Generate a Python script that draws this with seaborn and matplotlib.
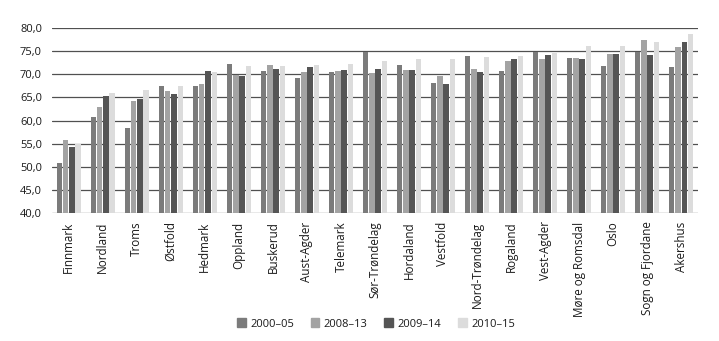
import matplotlib
matplotlib.use("Agg")
import matplotlib.pyplot as plt
import matplotlib.ticker as mticker
import seaborn as sns
import pandas as pd

counties = ["Finnmark", "Nordland", "Troms", "Østfold", "Hedmark", "Oppland",
            "Buskerud", "Aust-Agder", "Telemark", "Sør-Trøndelag", "Hordaland",
            "Vestfold", "Nord-Trøndelag", "Rogaland", "Vest-Agder",
            "Møre og Romsdal", "Oslo", "Sogn og Fjordane", "Akershus"]
periods = ["2000–05", "2008–13", "2009–14", "2010–15"]

v2000_05 = [50.9, 60.8, 58.3, 67.4, 67.4, 72.3, 70.6, 69.2, 70.5, 74.9,
            71.9, 68.1, 73.9, 70.6, 74.9, 73.5, 71.7, 74.7, 71.5]
v2008_13 = [55.7, 63.0, 64.2, 66.3, 67.8, 69.9, 71.9, 70.5, 70.6, 70.2,
            71.0, 69.7, 71.1, 72.9, 73.4, 73.5, 74.4, 77.3, 75.9]
v2009_14 = [54.3, 65.2, 64.6, 65.7, 70.8, 69.6, 71.1, 71.5, 70.9, 71.2,
            70.9, 67.8, 70.4, 73.3, 74.1, 73.3, 74.3, 74.1, 77.0]
v2010_15 = [54.9, 65.9, 66.5, 67.4, 70.5, 71.8, 71.8, 72.0, 72.2, 72.9,
            73.2, 73.4, 73.7, 74.0, 74.5, 76.1, 76.2, 76.9, 78.7]

series = [v2000_05, v2008_13, v2009_14, v2010_15]
rows = []
for p, vals in zip(periods, series):
    for c, v in zip(counties, vals):
        rows.append({"Fylke": c, "Periode": p, "Verdi": v})
df = pd.DataFrame(rows)

colors = ["#7b7b7b", "#a3a3a3", "#555555", "#dcdcdc"]

sns.set_theme(style="white")
plt.rcParams["font.family"] = ["Open Sans", "DejaVu Sans"]

fig = plt.figure(figsize=(7.19, 3.41), dpi=100)
ax = fig.add_axes([0.072, 0.375, 0.899, 0.543])

sns.barplot(data=df, x="Fylke", y="Verdi", hue="Periode", order=counties,
            hue_order=periods, palette=colors, width=0.74, gap=0.12,
            saturation=1, errorbar=None, linewidth=0, ax=ax, zorder=3)

ax.set_ylim(40, 80)
ax.set_yticks([40, 45, 50, 55, 60, 65, 70, 75, 80])
ax.yaxis.set_major_formatter(mticker.FuncFormatter(lambda v, _: f"{v:.1f}".replace(".", ",")))
ax.set_xlim(-0.5, len(counties) - 0.5)
ax.grid(axis="y", color="#505050", linewidth=0.9, zorder=0)
ax.set_axisbelow(True)
for s in ax.spines.values():
    s.set_visible(False)
ax.set_xlabel("")
ax.set_ylabel("")
ax.tick_params(axis="y", length=0, labelsize=8, pad=7, colors="#1a1a1a")
ax.tick_params(axis="x", length=0, labelsize=8.4, pad=6, colors="#1a1a1a")
plt.setp(ax.get_xticklabels(), rotation=90)

ax.legend_.remove()
handles = [plt.Rectangle((0, 0), 1, 1, color=c) for c in colors]
fig.legend(handles, periods, loc="center", bbox_to_anchor=(0.523, 0.05),
           ncol=4, frameon=False, fontsize=8, handlelength=0.8,
           handleheight=0.8, handletextpad=0.4, columnspacing=1.5,
           labelcolor="#1a1a1a")

fig.savefig("out.png", dpi=100)
